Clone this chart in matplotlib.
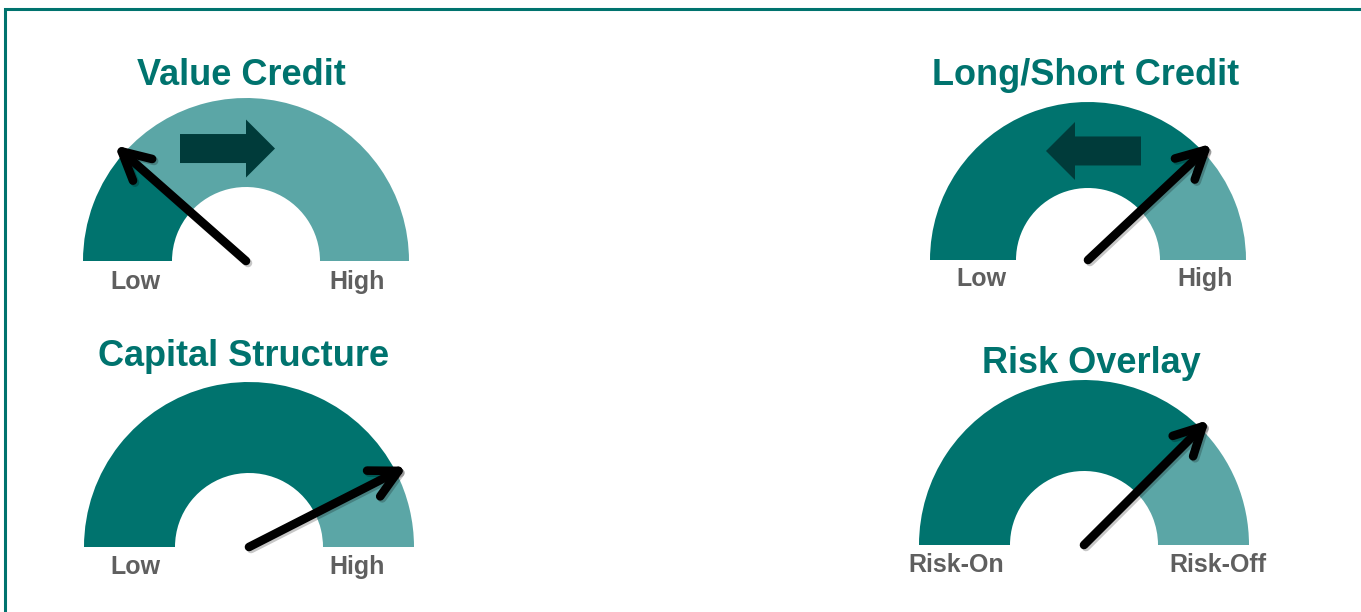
import numpy as np
import matplotlib
matplotlib.use("Agg")
import matplotlib.pyplot as plt
from matplotlib.patches import Wedge, FancyArrow, FancyArrowPatch

# gauge data (0 = far left / low, 100 = far right / high)
titles = ["Value Credit", "Long/Short Credit", "Capital Structure", "Risk Overlay"]
low_labels = ["Low", "Low", "Low", "Risk-On"]
high_labels = ["High", "High", "High", "Risk-Off"]
needle_pos = [23, 76, 85, 75]      # where the needle points; dial is dark up to it
trend = [1, -1, 0, 0]              # block arrow: 1 right, -1 left, 0 none

# layout in pixel coords (y measured from top)
W, H = 1361, 612
centers = [(246, 261), (1088, 260), (249, 547), (1084, 545)]
outer_r = [163, 158, 165, 165]
inner_r = [74, 72, 74, 74]
title_y = [85, 85, 366, 373]
title_x = [241, 1086, 244, 1091]
label_x = [(135, 357), (981, 1205), (135, 357), (956, 1218)]
label_y = [289, 286, 574, 572]

DARK = "#00736E"
LIGHT = "#5BA6A6"
ARROW = "#003B3A"
GREY = "#5F5F5F"

plt.rcParams['font.family'] = ['Liberation Sans', 'DejaVu Sans']

fig = plt.figure(figsize=(W / 100, H / 100), dpi=100)
ax = fig.add_axes([0, 0, 1, 1])
ax.set_xlim(0, W)
ax.set_ylim(0, H)
ax.axis('off')


def fy(y):
    return H - y


for i in range(4):
    cx, cy = centers[i][0], fy(centers[i][1])
    ro, ri = outer_r[i], inner_r[i]
    split = 180 - 1.8 * needle_pos[i]
    ax.add_patch(Wedge((cx, cy), ro, split, 180, width=ro - ri, color=DARK, lw=0))
    ax.add_patch(Wedge((cx, cy), ro, 0, split, width=ro - ri, color=LIGHT, lw=0))

    # trend block arrow
    if trend[i] != 0:
        ay = cy + 0.69 * ro
        x0 = cx - 66 if trend[i] > 0 else cx + 53
        ax.add_patch(FancyArrow(x0, ay, trend[i] * 95, 0, width=29, head_width=58,
                                head_length=29, length_includes_head=True,
                                color=ARROW, lw=0))

    # needle
    ang = np.radians(split)
    ln = ro + 12
    tip = (cx + ln * np.cos(ang), cy + ln * np.sin(ang))
    style = '->,head_length=1.0,head_width=0.52'
    shadow = FancyArrowPatch((cx + 2, cy - 2), (tip[0] + 2, tip[1] - 2),
                             arrowstyle=style, mutation_scale=20, lw=6.2,
                             color='#00000038', capstyle='round',
                             joinstyle='round', shrinkA=0, shrinkB=0)
    ax.add_patch(shadow)
    needle = FancyArrowPatch((cx, cy), tip, arrowstyle=style, mutation_scale=20,
                             lw=6.2, color='black', capstyle='round',
                             joinstyle='round', shrinkA=0, shrinkB=0)
    ax.add_patch(needle)

    ax.text(title_x[i], fy(title_y[i]), titles[i], ha='center', va='baseline',
            fontsize=26, fontweight='bold', color=DARK)
    ax.text(label_x[i][0], fy(label_y[i]), low_labels[i], ha='center', va='baseline',
            fontsize=18, fontweight='bold', color=GREY)
    ax.text(label_x[i][1], fy(label_y[i]), high_labels[i], ha='center', va='baseline',
            fontsize=18, fontweight='bold', color=GREY)

# frame (top and left edges visible)
ax.plot([5, 5, W], [0, fy(9), fy(9)], color=DARK, lw=2.2, solid_joinstyle='miter')

fig.savefig("out.png", dpi=100)
